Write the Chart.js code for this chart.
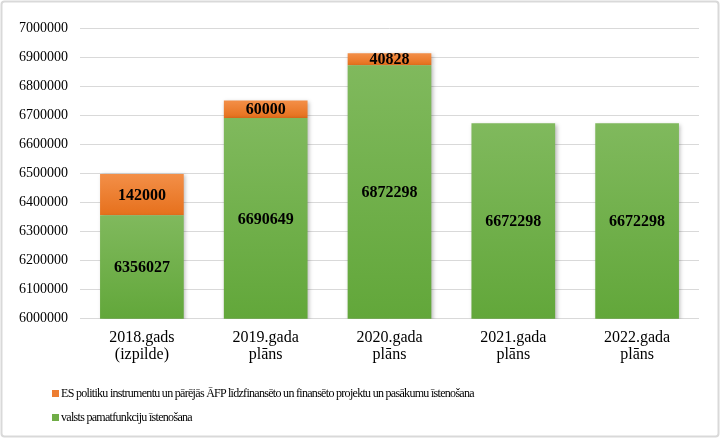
<!DOCTYPE html>
<html><head><meta charset="utf-8">
<script src="https://cdn.jsdelivr.net/npm/chart.js@4.4.1/dist/chart.umd.min.js"></script>
<style>
html,body{margin:0;padding:0;background:#fff;}
#wrap{position:relative;width:720px;height:438px;overflow:hidden;}
canvas{display:block;}
.leg{position:absolute;left:52px;height:16px;line-height:16px;font-size:12px;letter-spacing:-0.7px;font-family:"Liberation Serif","Times New Roman",serif;color:#000;display:flex;align-items:center;white-space:nowrap;}
.leg i{display:inline-block;width:7px;height:7px;margin-right:2px;}
</style></head><body>
<div id="wrap"><canvas id="c" width="720" height="438"></canvas></div>
<script>
const categories = [['2018.gads','(izpilde)'],['2019.gada','plāns'],['2020.gada','plāns'],['2021.gada','plāns'],['2022.gada','plāns']];
const seriesNames = ['valsts pamatfunkciju īstenošana','ES politiku instrumentu un pārējās ĀFP līdzfinansēto un finansēto projektu un pasākumu īstenošana'];
const baseValues = [6356027, 6690649, 6872298, 6672298, 6672298];
const euValues = [142000, 60000, 40828, null, null];
const yMin = 6000000, yMax = 7000000, yStep = 100000;

const FONT = '"Liberation Serif","Times New Roman",serif';
const legendColors = ['#70ad47', '#ed7d31'];
const gradColors = [['#80b95d', '#62a73a'], ['#f38f48', '#e6701c']];

function barGradient(c){
  const chart = c.chart, area = chart.chartArea, y = chart.scales.y;
  const cols = gradColors[c.datasetIndex];
  if (!area || !y || c.type !== 'data') return cols[0];
  const i = c.dataIndex, ds = c.datasetIndex;
  let lo = 0;
  for (let k = 0; k < ds; k++) lo += chart.data.datasets[k].data[i] || 0;
  const hi = lo + (chart.data.datasets[ds].data[i] || 0);
  const yTop = Math.max(y.getPixelForValue(hi), area.top);
  const yBot = Math.min(y.getPixelForValue(lo), area.bottom);
  if (!isFinite(yTop) || !isFinite(yBot) || yBot - yTop < 1) return cols[0];
  const g = chart.ctx.createLinearGradient(0, yTop, 0, yBot);
  g.addColorStop(0, cols[0]); g.addColorStop(1, cols[1]);
  return g;
}

const framePlugin = {
  id: 'frame',
  beforeDraw(chart){
    const ctx = chart.ctx;
    ctx.save(); ctx.fillStyle = '#fff'; ctx.fillRect(0,0,chart.width,chart.height); ctx.restore();
  },
  beforeDatasetsDraw(chart){
    const ctx = chart.ctx;
    ctx.save();
    ctx.shadowColor = 'rgba(0,0,0,0.28)';
    ctx.shadowBlur = 4; ctx.shadowOffsetX = 1.5; ctx.shadowOffsetY = 1.5;
  },
  afterDatasetsDraw(chart){
    const ctx = chart.ctx, area = chart.chartArea;
    ctx.restore();
    ctx.save();
    ctx.font = 'bold 16px ' + FONT; ctx.fillStyle = '#000';
    ctx.textAlign = 'center'; ctx.textBaseline = 'middle';
    chart.data.datasets.forEach((ds, di) => {
      chart.getDatasetMeta(di).data.forEach((el, i) => {
        const v = ds.data[i];
        if (v == null) return;
        const top = Math.max(Math.min(el.y, el.base), area.top);
        const bot = Math.min(Math.max(el.y, el.base), area.bottom);
        ctx.fillText(String(v), el.x, (top + bot) / 2 + 1);
      });
    });
    ctx.restore();
  },
  afterDraw(chart){
    const ctx = chart.ctx;
    ctx.save(); ctx.strokeStyle = '#d9d9d9'; ctx.lineWidth = 2;
    ctx.beginPath(); ctx.roundRect(1.5, 1.5, chart.width - 3, chart.height - 3, 3); ctx.stroke();
    ctx.restore();
  }
};

new Chart(document.getElementById('c'), {
  type: 'bar',
  data: {
    labels: categories,
    datasets: [
      {label: seriesNames[0], data: baseValues, backgroundColor: barGradient, categoryPercentage: 0.676, barPercentage: 1, borderWidth: 0},
      {label: seriesNames[1], data: euValues, backgroundColor: barGradient, categoryPercentage: 0.676, barPercentage: 1, borderWidth: 0}
    ]
  },
  options: {
    responsive: false, animation: false, devicePixelRatio: 1,
    layout: {padding: {left: 7, right: 21, top: 28, bottom: 64}},
    plugins: {legend: {display: false}, tooltip: {enabled: false}},
    scales: {
      x: {stacked: true, grid: {display: false, drawTicks: false}, border: {display: false},
          ticks: {color: '#000', font: {family: FONT, size: 16, lineHeight: 1.1}, padding: 10, maxRotation: 0, autoSkip: false}},
      y: {stacked: true, min: yMin, max: yMax,
          grid: {color: '#d9d9d9', drawTicks: false, lineWidth: 1}, border: {display: false},
          ticks: {stepSize: yStep, color: '#000', font: {family: FONT, size: 14}, padding: 12, callback: v => String(v)}}
    }
  },
  plugins: [framePlugin]
});

// legend (Excel order: last series first)
const wrap = document.getElementById('wrap');
[1, 0].forEach((si, row) => {
  const d = document.createElement('div');
  d.className = 'leg';
  d.style.top = (385 + row * 24) + 'px';
  const sw = document.createElement('i');
  sw.style.background = legendColors[si];
  d.appendChild(sw);
  d.appendChild(document.createTextNode(seriesNames[si]));
  wrap.appendChild(d);
});
</script>
</body></html>
